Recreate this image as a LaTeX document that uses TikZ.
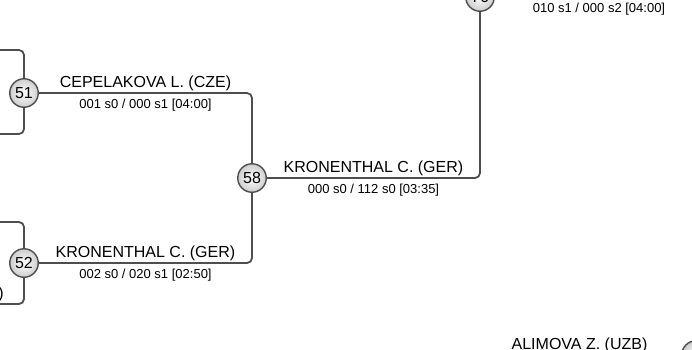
\documentclass[tikz,border=0pt]{standalone}
\usepackage{fontspec}
\setmainfont{Liberation Sans}
\usepackage{tikz}
\usetikzlibrary{positioning}
\usepackage{xcolor}
\definecolor{linegray}{RGB}{78, 78, 78}
\definecolor{ballgray}{RGB}{205, 205, 205}

\begin{document}
\begin{tikzpicture}[
					x=1pt, y=1pt,
					match/.style={circle, draw=linegray, line width=1.4pt, inner color=white, outer color=ballgray,
						minimum size=28.5pt, inner sep=0pt, font=\fontsize{16}{16}\selectfont},
					winner/.style={anchor=base, yshift=6pt, inner sep=0pt, font=\fontsize{16}{16}\selectfont},
					result/.style={anchor=base, yshift=-15pt, inner sep=0pt, font=\fontsize{13}{13}\selectfont},
					link/.style={draw=linegray, line width=1.8pt, rounded corners=5pt}
					]
					\useasboundingbox (0,0) rectangle (692,-349);
					\clip (0,0) rectangle (692,-349);
					
					\node[match] (m51) at (24,-93)   {51};
					\node[match] (m52) at (24,-263)  {52};
					\node[match] (m58) at (252,-178) {58};
					\node[match] (m76) at (480,3)    {76};
					\node[match] (mbr) at (696,-355) {};
					
					% feeders from outside the view
					\coordinate (a51) at (-30,-50);
					\coordinate (b51) at (-30,-134);
					\coordinate (a52) at (-30,-222);
					\coordinate (b52) at (-30,-304);
					\coordinate (out76) at (703,3);
					\coordinate (inbr) at (478,-355);
					
					\draw[link] (a51) -| (m51);
					\draw[link] (b51) -| (m51);
					\draw[link] (a52) -| (m52);
					\draw[link] (b52) -| (m52);
					\draw[link] (m51) -| (m58);
					\draw[link] (m52) -| (m58);
					\draw[link] (m58) -| (m76);
					\draw[link] (m76) -- (out76);
					\draw[link] (inbr) -- (mbr);
					
					\path (m51.east) -- (m51 -| m58)
						node[midway, winner] (w51) {CEPELAKOVA L. (CZE)}
						node[midway, result] (r51) {001 s0 / 000 s1 [04:00]};
					\path (m52.east) -- (m52 -| m58)
						node[midway, winner] (w52) {KRONENTHAL C. (GER)}
						node[midway, result] (r52) {002 s0 / 020 s1 [02:50]};
					\path (m58.east) -- (m58 -| m76)
						node[midway, winner] (w58) {KRONENTHAL C. (GER)}
						node[midway, result] (r58) {000 s0 / 112 s0 [03:35]};
					\path (m76.east) -- (out76)
						node[midway, result] (r76) {010 s1 / 000 s2 [04:00]};
					\path (inbr) -- (mbr.west)
						node[midway, winner] (wbr) {ALIMOVA Z. (UZB)};
					\node[anchor=base east, inner sep=0pt, font=\fontsize{16}{16}\selectfont] (cut) at (4,-298) {)};
				\end{tikzpicture}
\end{document}
